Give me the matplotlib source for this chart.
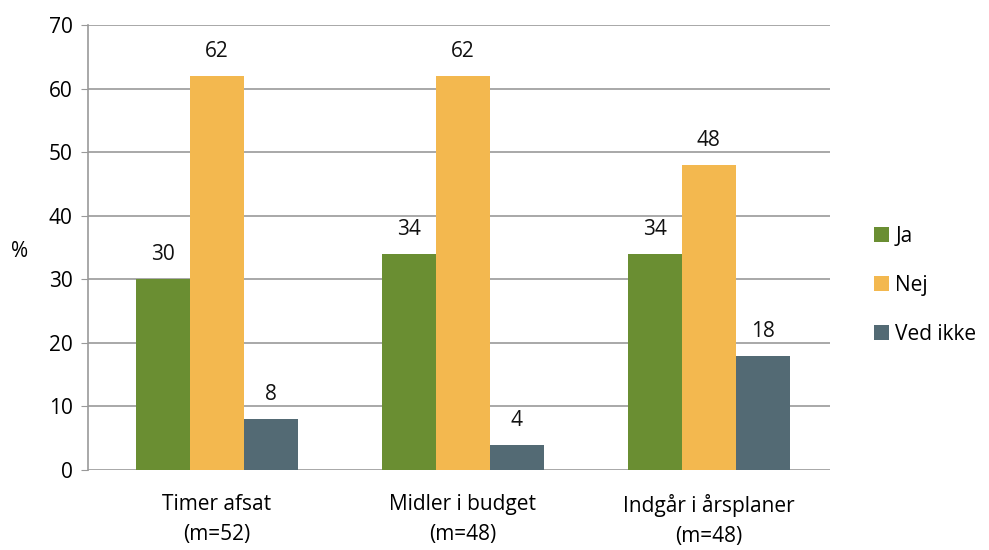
import numpy as np
import matplotlib
matplotlib.use("Agg")
import matplotlib.pyplot as plt

plt.rcParams["font.family"] = ["Open Sans", "DejaVu Sans"]

categories = ["Timer afsat\n(m=52)", "Midler i budget\n(m=48)", "Indgår i årsplaner\n(m=48)"]
series_names = ["Ja", "Nej", "Ved ikke"]
ja = [30, 34, 34]
nej = [62, 62, 48]
ved_ikke = [8, 4, 18]
colors = ["#6A8E32", "#F3B84F", "#536A74"]

fig = plt.figure(figsize=(9.89, 5.5), dpi=100)
ax = fig.add_axes([0.089, 0.1455, 0.75, 0.809])

x = np.arange(len(categories))
width = 0.22
for i, (vals, name, col) in enumerate(zip([ja, nej, ved_ikke], series_names, colors)):
    bars = ax.bar(x + (i - 1) * width, vals, width, color=col, label=name, zorder=3)
    for b, v in zip(bars, vals):
        ax.text(b.get_x() + b.get_width() / 2, v + 2.2, str(v),
                ha="center", va="bottom", fontsize=15, color="#111111")

ax.set_xlim(-0.524, 2.492)
ax.set_ylim(0, 70)
ax.set_yticks(range(0, 71, 10))
ax.set_xticks(x)
ax.set_xticklabels(categories, fontsize=15, linespacing=1.6)
ax.tick_params(axis="x", length=0, pad=17)
ax.tick_params(axis="y", labelsize=15, length=5, color="#999999", direction="out", pad=6)
ax.yaxis.grid(True, color="#9a9a9a", linewidth=1.2, zorder=0)
for s in ["top", "right", "bottom"]:
    ax.spines[s].set_visible(False)
ax.spines["left"].set_color("#999999")
ax.spines["left"].set_linewidth(1.2)
ax.set_ylabel("%", rotation=0, fontsize=15, labelpad=22, va="center")
ax.yaxis.set_label_coords(-0.092, 0.49)

ax.legend(loc="center left", bbox_to_anchor=(1.035, 0.415), frameon=False,
          fontsize=15, handlelength=0.7, handleheight=0.7, labelspacing=1.35,
          handletextpad=0.3)

fig.savefig("out.png", dpi=100)
